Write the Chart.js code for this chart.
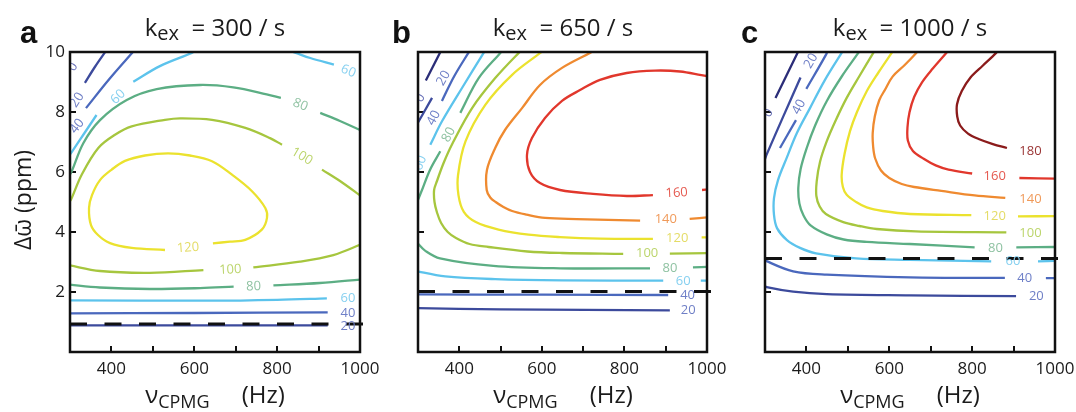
<!DOCTYPE html>
<html>
<head>
<meta charset="utf-8">
<title>CPMG contour maps</title>
<script src="https://cdn.jsdelivr.net/npm/chart.js@4.4.1/dist/chart.umd.min.js"></script>
<style>
  body { margin: 0; background: #fff; }
  #wrap { position: relative; width: 1076px; height: 412px; overflow: hidden; font-family: 'Open Sans', sans-serif; color: #1b1b1b; }
  canvas { position: absolute; top: 0; }
  .letter { position: absolute; top: 17px; font: bold 31px/31px 'Liberation Sans', Arial, sans-serif; color: #111; }
  .title { position: absolute; top: 15px; width: 290px; text-align: center; font-size: 24px; line-height: 24px; white-space: nowrap; }
  .title sub { font-size: 20px; line-height: 0; vertical-align: -4px; }
  .xt { position: absolute; top: 382px; width: 290px; text-align: center; font-size: 24px; line-height: 24px; white-space: nowrap; }
  .xt sub { font-size: 18px; line-height: 0; vertical-align: -5px; }
  .xt .hz { margin-left: 32px; }
  .yt { position: absolute; left: -38px; top: 188px; width: 120px; text-align: center; font-size: 23px; line-height: 24px; white-space: nowrap; transform: rotate(-90deg); }
</style>
</head>
<body>
<div id="wrap">
  <canvas id="ca" width="396" height="412" style="left:0"></canvas>
  <canvas id="cb" width="383" height="412" style="left:360px"></canvas>
  <canvas id="cc" width="371" height="412" style="left:720px"></canvas>
  <div class="yt">&Delta;&omega;&#772; (ppm)</div>
</div>
<script>
// ---- values ----
const kexValues = [300, 650, 1000];
const panelLetters = ['a', 'b', 'c'];
const xTickLabels = [400, 600, 800, 1000];
const yTickLabels = [2, 4, 6, 8, 10];
const dashLevels = [0.93, 2.02, 3.12]; // ppm of the dashed line in a, b, c

// contour lines: [nu_CPMG (Hz), delta omega (ppm)], null = break (label gap)
// panel a, kex = 300 /s
const a20 = [[336, 8.97], [360, 9.5], [390, 10.1], null, [295, 0.89], [600, 0.89], [922, 0.89]];
const a40 = [[338.6, 8.13], [395, 9.1], [455, 10.05], null, [295, 1.29], [600, 1.3], [922, 1.32]];
const a60 = [[297, 6.53], [305, 6.68], [335, 7.3], [364, 7.9], null,
  [452.8, 9.01], [517, 9.53], [594, 9.97], [604, 10.05], null,
  [828, 10.05], [845, 9.97], [880, 9.8], [937, 9.58], null,
  [295, 1.72], [640, 1.71], [800, 1.74], [920, 1.79]];
const a80 = [[297.6, 5.87], [304.1, 6.02], [332.1, 6.96], [372.4, 7.73], [436.9, 8.4], [509.3, 8.76],
  [613.8, 8.9], [694.2, 8.82], [774.8, 8.59], [809, 8.47], null,
  [904, 7.97], [951.7, 7.7], [1005, 7.37], null,
  [295, 2.25], [372, 2.15], [493, 2.1], [614, 2.13], [695, 2.18], null,
  [791, 2.22], [903, 2.3], [1005, 2.42]];
const a100 = [[297.6, 4.97], [304.1, 5.13], [328.2, 5.91], [368.3, 6.8], [408.6, 7.24], [448.9, 7.52],
  [529.3, 7.74], [565.5, 7.79], [642.8, 7.74], [723.2, 7.47], [782.8, 7.13], [811.7, 6.91], null,
  [908.3, 6.08], [951.7, 5.7], [1005, 5.17], null,
  [295, 2.9], [372.4, 2.7], [493, 2.64], [622, 2.73], null,
  [742.5, 2.82], [855, 3.01], [935.6, 3.23], [1005, 3.6]];
const a120 = [[645, 3.62], [686, 3.68], [723, 3.74], [763, 4.08], [775.5, 4.47], [771.4, 4.8], [739.3, 5.36],
  [691, 5.91], [642.8, 6.36], [589.7, 6.55], [536.6, 6.62], [481, 6.55], [432.8, 6.37], [400.7, 6.08],
  [372.4, 5.73], [353.1, 5.23], [345.9, 4.8], [350.7, 4.23], [367.6, 3.9], [396.6, 3.63], [448.9, 3.47], [529.3, 3.4]];

// panel b, kex = 650 /s
const b0 = [[319, 9.05], [356, 10.05]];
const b20 = [[298, 7.6], [334, 8.47], null, [298, 1.46], [500, 1.42], [910, 1.39]];
const b40 = [[358, 8.37], [388, 9.2], [426, 10.06], null, [298, 1.92], [600, 1.91], [906, 1.9]];
const b60 = [[463, 10.05], [459, 9.97], [406.6, 8.8], [358.1, 7.69], [329.8, 6.91], null,
  [296, 2.72], [301.7, 2.68], [366, 2.52], [487, 2.43], [649, 2.39], [894, 2.38], null, [985, 2.38], [1005, 2.38]];
const b80 = [[504, 10.05], [499.3, 9.97], [447, 9.13], [402.5, 7.97], null,
  [354, 6.69], [329, 6.07], [309.7, 5.4], [300, 5.07], [292.7, 4.8], null,
  [296, 3.7], [300.7, 3.6], [317, 3.38], [353.3, 3.12], [482.4, 2.87], [644, 2.79], [862, 2.79], null,
  [966, 2.82], [1005, 2.84]];
const b100 = [[552, 10.05], [544, 9.97], [487, 9.13], [431, 8.13], [382, 6.91], [362, 6.3], [346, 5.7], [339, 5.4],
  [340, 5.0], [346, 4.65], [356, 4.3], [372, 4.0], [392, 3.8], [425, 3.6], [471, 3.5], [565, 3.35], [649, 3.3],
  [797, 3.27], null, [910, 3.28], [1005, 3.3]];
const b120 = [[603, 10.05], [596, 9.97], [528, 9.24], [463, 8.24], [415, 7.02], [397, 5.9], [398, 5.23], [411, 4.67],
  [440, 4.33], [495, 4.08], [568, 3.91], [644, 3.83], [741, 3.78], [869, 3.77], null, [987, 3.82], [1005, 3.82]];
const b140 = [[727, 10.05], [716.6, 9.97], [648.8, 9.47], [595.5, 8.9], [552, 8.13], [510.7, 7.4], [487, 6.8],
  [467, 6.07], [466.4, 5.4], [475, 5.15], [489, 4.99], [505, 4.85], [528, 4.7], [563, 4.58], [608, 4.47],
  [684, 4.43], [838, 4.38], null, [958, 4.44], [1005, 4.49]];
const b160 = [[1005, 9.22], [999, 9.2], [934.6, 9.35], [874, 9.38], [805.5, 9.3], [740.8, 9.07], [692.4, 8.73],
  [648.8, 8.37], [607.6, 7.8], [576, 7.13], [564, 6.57], [571.3, 6.0], [595.5, 5.63], [644, 5.4], [724, 5.27],
  [806, 5.2], [869, 5.23], null, [988, 5.4], [1005, 5.42]];

// panel c, kex = 1000 /s
const c0 = [[325.3, 8.47], [377.2, 9.93], [381.5, 10.05]];
const c20 = [[299, 6.4], [303.6, 6.57], [344.7, 7.87], [385.7, 9.15], null,
  [298, 2.22], [304, 2.16], [368, 2.01], [449, 1.93], [650, 1.89], [906, 1.86]];
const c40 = [[451, 10.05], [448, 9.93], [399.7, 8.77], null, [374.8, 7.73], [336.2, 6.8], null,
  [298, 3.12], [304, 3.03], [368, 2.69], [449, 2.58], [650, 2.49], [879, 2.47], null, [978, 2.46], [1005, 2.46]];
const c60 = [[490, 10.07], [485, 9.97], [444.8, 9.07], [408.6, 8.13], [377, 7.3], [352.4, 6.47], [331.4, 5.73],
  [321.7, 5.13], [321.7, 4.57], [329, 4.13], [353, 3.73], [384.5, 3.47], [423, 3.29], [519.7, 3.12], [650, 3.07],
  [846, 3.02], null, [959, 3.02], [1005, 3.04]];
const c80 = [[530, 10.07], [525.2, 9.97], [486, 9.2], [448.9, 8.36], [421, 7.55], [400.7, 6.8], [386, 6.1],
  [380.4, 5.47], [383, 4.95], [393, 4.55], [410, 4.22], [448.9, 3.92], [490, 3.75], [545.5, 3.67], [650, 3.6],
  [806, 3.49], null, [906.6, 3.49], [1005, 3.5]];
const c100 = [[566, 10.07], [561.4, 9.97], [528, 9.2], [497.2, 8.47], [470, 7.7], [448.9, 7.02], [433, 6.35],
  [424.8, 5.69], [424, 5.2], [432, 4.85], [447, 4.6], [489, 4.33], [528, 4.2], [569.6, 4.1], [664, 4.02], [882.5, 3.99]];
const c120 = [[611, 10.07], [605.8, 9.97], [573, 9.3], [545.5, 8.69], [522, 8.0], [505.2, 7.36], [492, 6.6],
  [485.1, 5.91], [488, 5.5], [497.2, 5.24], [520, 5.0], [545.5, 4.82], [584, 4.7], [650, 4.6], [798, 4.56], null,
  [910.7, 4.52], [1005, 4.53]];
const c140 = [[670, 10.07], [664.5, 9.96], [636, 9.55], [608, 9.18], [590, 8.75], [576, 8.4], [565, 7.85], [560, 7.3],
  [561, 6.85], [566, 6.45], [580, 6.05], [600, 5.8], [630, 5.6], [660, 5.5], [725.6, 5.37], [806, 5.22], [880, 5.14]];
const c160 = [[743, 10.07], [737.5, 9.97], [705, 9.45], [679, 8.99], [660, 8.5], [648.8, 7.99], [644, 7.5],
  [644.8, 7.05], [657, 6.7], [683, 6.44], [712, 6.22], [743, 6.08], [800, 5.95], null, [914, 5.8], [1005, 5.78]];
const c180 = [[862, 10.07], [858, 9.97], [826, 9.55], [796, 9.15], [775, 8.7], [763.5, 8.26], [764, 7.85],
  [771, 7.55], [790, 7.28], [815.7, 7.1], [850, 6.93], [884, 6.8]];

// inline contour labels: [text, Hz, ppm, level]
const aLabels = [['0', 307, 9.5, 0], ['20', 317, 8.4, 20], ['40', 317, 7.53, 40], ['60', 416, 8.5, 60],
  ['60', 972, 9.36, 60], ['80', 856, 8.24, 80], ['100', 860, 6.52, 100], ['120', 585, 3.47, 120],
  ['100', 687, 2.74, 100], ['80', 743, 2.18, 80], ['60', 971, 1.78, 60], ['40', 971, 1.3, 40], ['20', 971, 0.86, 20]];
const bLabels = [['0', 305.6, 8.47, 0], ['20', 362, 9.13, 20], ['40', 338, 7.8, 40], ['60', 305.6, 6.3, 60],
  ['80', 374.4, 7.24, 80], ['160', 926.6, 5.3, 160], ['140', 900.2, 4.41, 140], ['120', 928, 3.8, 120],
  ['100', 855, 3.28, 100], ['80', 910.4, 2.8, 80], ['60', 942.6, 2.36, 60], ['40', 953, 1.89, 40], ['20', 954.7, 1.39, 20]];
const cLabels = [['0', 308, 7.97, 0], ['20', 411, 9.7, 20], ['40', 382, 8.17, 40], ['180', 940.9, 6.69, 180],
  ['160', 854.4, 5.86, 160], ['140', 940.9, 5.08, 140], ['120', 854.4, 4.52, 120], ['100', 940.9, 3.97, 100],
  ['80', 856.4, 3.47, 80], ['60', 898.6, 3.02, 60], ['40', 926.9, 2.47, 40], ['20', 954.9, 1.86, 20]];

// ---- styling ----
const lineColors = { 0: '#2b2d78', 20: '#3c4a9c', 40: '#4a68bd', 60: '#5cc3ec', 80: '#5cae84', 100: '#a6c63e',
  120: '#ebe22e', 140: '#ef8a30', 160: '#e1372c', 180: '#8b1b1b' };
const labelColors = { 0: '#6a72b8', 20: '#6f7fc6', 40: '#6f80c8', 60: '#86d0f0', 80: '#8fc2a2', 100: '#bcd56c',
  120: '#e4dc66', 140: '#f09a5a', 160: '#e55a50', 180: '#9a3434' };
const aAngles = [-60, -57, -52, -45, 22, 22, 30, -4, -3, -2, 0, 0, 0];
const bAngles = [-62, -60, -62, -68, -62, -3, 0, 0, 0, 0, 0, 0, 0];
const cAngles = [-62, -60, -62, 0, 0, 0, 0, 0, 0, 0, 0, 0];

// right padding has to exceed half the "1000" label plus the tick padding
const panels = [
  { id: 'ca', left: 70, yWidth: 70, padRight: 36, yLabels: true, labels: aLabels, angles: aAngles,
    lines: [[20, a20], [40, a40], [60, a60], [80, a80], [100, a100], [120, a120]] },
  { id: 'cb', left: 418, yWidth: 58, padRight: 36, yLabels: false, labels: bLabels, angles: bAngles,
    lines: [[0, b0], [20, b20], [40, b40], [60, b60], [80, b80], [100, b100], [120, b120], [140, b140], [160, b160]] },
  { id: 'cc', left: 765, yWidth: 45, padRight: 36, yLabels: false, labels: cLabels, angles: cAngles,
    lines: [[0, c0], [20, c20], [40, c40], [60, c60], [80, c80], [100, c100], [120, c120], [140, c140], [160, c160], [180, c180]] }
];

function toPoints(arr) {
  let prev = 300;
  return arr.map(p => {
    if (p === null) return { x: prev, y: null };
    prev = p[0];
    return { x: p[0], y: p[1] };
  });
}

function labelPlugin(labels, angles) {
  return {
    id: 'contourLabels',
    afterDatasetsDraw(chart) {
      const { ctx, chartArea: a, scales } = chart;
      ctx.save();
      ctx.beginPath();
      ctx.rect(a.left, a.top, a.right - a.left, a.bottom - a.top);
      ctx.clip();
      ctx.font = "13px 'Open Sans'";
      ctx.textAlign = 'center';
      ctx.textBaseline = 'middle';
      labels.forEach(([text, hz, ppm, level], i) => {
        ctx.save();
        ctx.translate(scales.x.getPixelForValue(hz), scales.y.getPixelForValue(ppm));
        ctx.rotate(angles[i] * Math.PI / 180);
        ctx.fillStyle = labelColors[level];
        ctx.fillText(text, 0, 0);
        ctx.restore();
      });
      ctx.restore();
    }
  };
}

const framePlugin = {
  id: 'frame',
  afterDraw(chart) {
    const { ctx, chartArea: a } = chart;
    ctx.save();
    ctx.lineWidth = 2.5;
    ctx.strokeStyle = '#111';
    ctx.strokeRect(a.left, a.top, a.right - a.left, a.bottom - a.top);
    ctx.restore();
  }
};

const wrap = document.getElementById('wrap');

panels.forEach((p, i) => {
  // panel letter, title and x-axis title
  const letter = document.createElement('div');
  letter.className = 'letter';
  letter.style.left = [20, 392, 741][i] + 'px';
  letter.textContent = panelLetters[i];
  wrap.appendChild(letter);

  const title = document.createElement('div');
  title.className = 'title';
  title.style.left = p.left + 'px';
  title.innerHTML = 'k<sub>ex</sub>&nbsp;&nbsp;= ' + kexValues[i] + ' / s';
  wrap.appendChild(title);

  const xt = document.createElement('div');
  xt.className = 'xt';
  xt.style.left = p.left + 'px';
  xt.innerHTML = '<span>&nu;</span><sub>CPMG</sub><span class="hz">(Hz)</span>';
  wrap.appendChild(xt);

  const datasets = [{
    data: toPoints([[300, dashLevels[i]], [1030, dashLevels[i]]]),
    borderColor: '#111',
    borderWidth: 3,
    borderDash: [17, 17.5],
    tension: 0,
    clip: { left: 0, top: 0, right: 6, bottom: 0 }
  }];
  p.lines.forEach(([level, pts]) => {
    datasets.push({
      data: toPoints(pts),
      borderColor: lineColors[level],
      borderWidth: 2.3,
      tension: 0.35,
      clip: 0
    });
  });

  const tickFont = { family: 'Open Sans', size: 17 };
  new Chart(document.getElementById(p.id), {
    type: 'line',
    data: { datasets },
    options: {
      responsive: false,
      animation: false,
      events: [],
      layout: { padding: { top: 52, right: p.padRight, bottom: 0, left: 0 } },
      plugins: { legend: { display: false }, tooltip: { enabled: false } },
      elements: {
        point: { radius: 0 },
        line: { capBezierPoints: false, borderCapStyle: 'butt', fill: false }
      },
      scales: {
        x: {
          type: 'linear', min: 300, max: 1000,
          afterFit: s => { s.height = 60; },
          border: { display: false },
          grid: { drawOnChartArea: false, tickLength: -6, color: '#111', lineWidth: 2 },
          ticks: {
            stepSize: 100, autoSkip: false, maxRotation: 0, padding: 13, color: '#1b1b1b', font: tickFont,
            callback: v => xTickLabels.includes(v) ? String(v) : ''
          }
        },
        y: {
          type: 'linear', min: 0, max: 10,
          afterFit: s => { s.width = p.yWidth; },
          border: { display: false },
          grid: { drawOnChartArea: false, tickLength: -6, color: '#111', lineWidth: 2 },
          ticks: {
            stepSize: 2, padding: 11, color: '#1b1b1b', font: tickFont,
            callback: v => p.yLabels && yTickLabels.includes(v) ? String(v) : ''
          }
        }
      }
    },
    plugins: [labelPlugin(p.labels, p.angles), framePlugin]
  });
});
</script>
</body>
</html>
